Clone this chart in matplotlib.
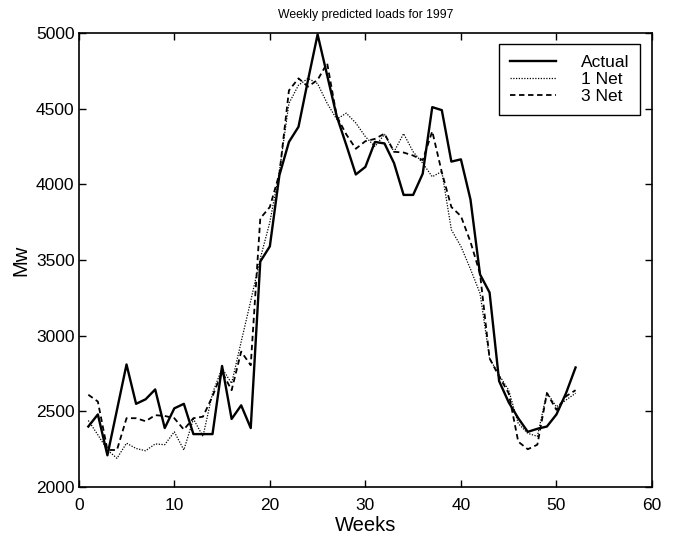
import matplotlib
matplotlib.use("Agg")
import matplotlib.pyplot as plt
import numpy as np

plt.rcParams['font.family'] = ['Liberation Sans', 'DejaVu Sans']

# weekly loads (Mw), weeks 1..52
weeks = np.arange(1, 53)

actual = [2400, 2480, 2210, 2510, 2810, 2550, 2580, 2645, 2390, 2520,
          2550, 2350, 2350, 2350, 2800, 2450, 2540, 2390, 3490, 3590,
          4060, 4280, 4380, 4690, 4990, 4720, 4450, 4260, 4065, 4115,
          4280, 4270, 4140, 3930, 3930, 4070, 4510, 4490, 4150, 4165,
          3900, 3405, 3285, 2700, 2560, 2455, 2365, 2385, 2400, 2480,
          2620, 2790]

net1 = [2440, 2345, 2245, 2190, 2290, 2255, 2240, 2285, 2280, 2365,
        2245, 2450, 2335, 2620, 2785, 2685, 2960, 3230, 3510, 3750,
        4085, 4535, 4655, 4700, 4665, 4535, 4430, 4470, 4405, 4315,
        4250, 4330, 4215, 4335, 4215, 4140, 4050, 4085, 3700, 3590,
        3440, 3280, 2850, 2740, 2640, 2420, 2355, 2335, 2625, 2530,
        2575, 2620]

net3 = [2610, 2565, 2245, 2245, 2455, 2455, 2435, 2475, 2470, 2455,
        2380, 2455, 2465, 2600, 2760, 2640, 2895, 2805, 3775, 3850,
        4070, 4620, 4700, 4645, 4690, 4800, 4450, 4330, 4235, 4285,
        4300, 4335, 4215, 4210, 4190, 4160, 4350, 4080, 3850, 3790,
        3620, 3410, 2850, 2730, 2620, 2300, 2250, 2280, 2620, 2510,
        2600, 2640]

labels = ['Actual', '1 Net', '3 Net']
xticks = [0, 10, 20, 30, 40, 50, 60]
yticks = [2000, 2500, 3000, 3500, 4000, 4500, 5000]

fig = plt.figure(figsize=(6.76, 5.40), dpi=100)
ax = fig.add_axes([0.1165, 0.098, 0.848, 0.841])

ax.plot(weeks, actual, color='black', lw=1.7, ls='-', label=labels[0])
ax.plot(weeks, net1, color='black', lw=0.9, ls=(0, (1, 1.2)), label=labels[1])
ax.plot(weeks, net3, color='black', lw=1.3, ls=(0, (3, 2)), label=labels[2])

ax.set_xlim(0, 60)
ax.set_ylim(2000, 5000)
ax.set_xticks(xticks)
ax.set_yticks(yticks)
ax.tick_params(direction='in', top=True, right=True, length=5, width=1,
               labelsize=12.5)
ax.tick_params(axis='x', pad=8)
ax.tick_params(axis='y', pad=3)
for s in ax.spines.values():
    s.set_linewidth(1.2)

ax.set_xlabel('Weeks', fontsize=14.5, labelpad=2)
ax.set_ylabel('Mw', fontsize=14.5, labelpad=4)
ax.set_title('Weekly predicted loads for 1997', fontsize=8.8, pad=11)

leg = ax.legend(loc='upper right', fontsize=12.5, fancybox=False,
                edgecolor='black', framealpha=1, handlelength=2.65,
                handletextpad=1.45, borderpad=0.62, labelspacing=0.12,
                borderaxespad=0, bbox_to_anchor=(0.979, 0.976))
leg.get_frame().set_linewidth(1.0)

fig.savefig('out.png', dpi=100)
